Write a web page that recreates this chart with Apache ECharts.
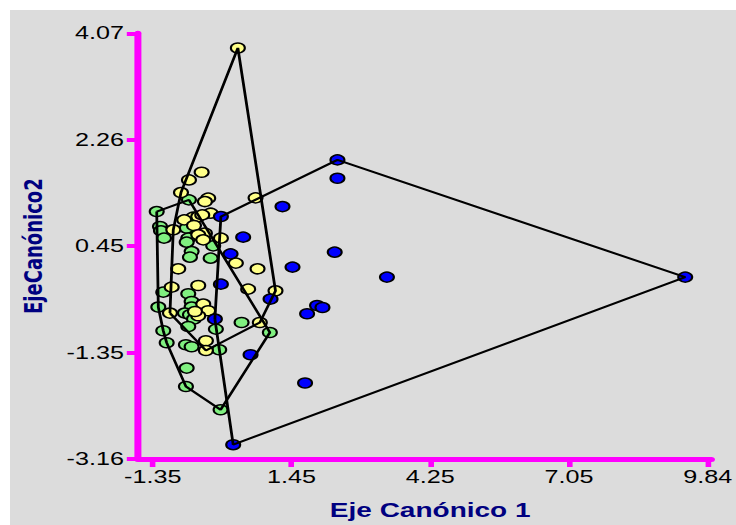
<!DOCTYPE html>
<html>
<head>
<meta charset="utf-8">
<script src="https://cdn.jsdelivr.net/npm/echarts@6/dist/echarts.min.js"></script>
<style>
  html, body { margin: 0; padding: 0; background: #ffffff; overflow: hidden; }
  #wrap { position: relative; width: 736px; height: 525px; overflow: hidden; background: #ffffff; }
  #bg { position: absolute; left: 10px; top: 10px; right: 0; bottom: 0; background: #dcdcdc; }
  #chart { position: absolute; left: 0; top: 0; height: 525px; transform-origin: 0 0; }
</style>
</head>
<body>
<div id="wrap"><div id="bg"></div><div id="chart"></div></div>
<script>
// ---- data ----
const xTickLabels = ['-1.35', '1.45', '4.25', '7.05', '9.84'];
const yTickLabels = ['-3.16', '-1.35', '0.45', '2.26', '4.07'];
const xTitle = 'Eje Canónico 1';
const yTitle = 'EjeCanónico2';

const yellowX = [0.367, -0.363, -0.619, -0.780, -0.231, -0.297, 0.724, -0.182, -0.533, -0.432, -0.351, -0.714, -0.518, -0.935, -0.297, -0.432, -0.331, 0.025, 0.327, -0.835, 0.764, -0.967, -0.432, 0.575, 1.126, -0.331, -0.231, -0.432, -0.498, -1.002, 0.810, -0.277, -0.277];
const yellowY = [3.821, 1.711, 1.580, 1.365, 1.270, 1.212, 1.275, 1.015, 0.947, 0.957, 0.986, 0.901, 0.805, 0.732, 0.676, 0.647, 0.562, 0.591, 0.167, 0.070, 0.070, -0.241, -0.214, -0.275, -0.304, -0.529, -0.643, -0.728, -0.655, -0.682, -0.842, -1.152, -1.317];

const greenX = [-1.269, -0.619, -1.203, -1.183, -1.122, -0.665, -0.633, -0.665, -0.130, -0.565, -0.599, -0.182, -1.137, -0.633, -0.565, -1.237, -0.565, -0.700, -0.599, -0.518, -0.633, 0.442, -0.076, 1.012, -1.137, -1.068, -0.680, -0.565, -0.009, -0.665, -0.680, 0.019];
const greenY = [1.042, 1.241, 0.788, 0.715, 0.591, 0.761, 0.591, 0.523, 0.460, 0.363, 0.268, 0.251, -0.326, -0.354, -0.485, -0.580, -0.580, -0.682, -0.711, -0.784, -0.909, -0.842, -0.954, -1.011, -0.982, -1.186, -1.220, -1.254, -1.305, -1.616, -1.928, -2.323];

const blueX = [0.025, 1.267, 2.375, 2.375, 0.474, 0.220, 2.320, 1.469, 3.373, 0.025, 1.026, 1.964, 2.073, 1.763, -0.096, 0.623, 1.722, 0.273, 9.387];
const blueY = [0.957, 1.127, 1.920, 1.609, 0.608, 0.324, 0.353, 0.099, -0.071, -0.190, -0.444, -0.553, -0.587, -0.694, -0.784, -1.390, -1.870, -2.917, -0.071];

// ---- helpers ----
function pairs(xs, ys) { return xs.map((x, i) => [x, ys[i]]); }
function hull(pts) {
  const p = pts.slice().sort((a, b) => a[0] - b[0] || a[1] - b[1]);
  const cross = (o, a, b) => (a[0] - o[0]) * (b[1] - o[1]) - (a[1] - o[1]) * (b[0] - o[0]);
  const lower = [], upper = [];
  for (const q of p) { while (lower.length >= 2 && cross(lower[lower.length - 2], lower[lower.length - 1], q) <= 0) lower.pop(); lower.push(q); }
  for (let i = p.length - 1; i >= 0; i--) { const q = p[i]; while (upper.length >= 2 && cross(upper[upper.length - 2], upper[upper.length - 1], q) <= 0) upper.pop(); upper.push(q); }
  upper.pop(); lower.pop();
  const h = lower.concat(upper);
  h.push(h[0]);
  return h;
}

const yellowPts = pairs(yellowX, yellowY);
const greenPts = pairs(greenX, greenY);
const bluePts = pairs(blueX, blueY);

// horizontal stretch of the original picture
const SX = 1.4;
const CW = 736 / SX;
const dom = document.getElementById('chart');
dom.style.width = CW + 'px';
dom.style.transform = 'scaleX(' + SX + ')';

const MAG = '#ff00ff';
const NAVY = '#000080';
const gridLeft = 152.7 / SX, gridRight = (736 - 708.5) / SX;
const lineLeft = 138 / SX, lineRight = (736 - 711) / SX;
const gTop = 33.3, gBottom = 525 - 459.3;

const chart = echarts.init(dom, null, { renderer: 'svg' });

function scatterSeries(name, data, color) {
  return {
    name, type: 'scatter', xAxisIndex: 0, yAxisIndex: 0, data,
    symbol: 'circle', symbolSize: 10, z: 3,
    itemStyle: { color, borderColor: '#000000', borderWidth: 1.5, opacity: 1 },
    emphasis: { disabled: true }
  };
}
function hullSeries(name, data) {
  return {
    name, type: 'line', xAxisIndex: 0, yAxisIndex: 0, data: hull(data),
    symbol: 'none', z: 5, silent: true,
    lineStyle: { color: '#000000', width: 2 }
  };
}

const labelFont = { fontFamily: 'Liberation Sans, Arial, sans-serif', fontSize: 18, color: '#000000' };

chart.setOption({
  animation: false,
  backgroundColor: 'transparent',
  grid: [
    { left: gridLeft, right: gridRight, top: gTop, bottom: gBottom },
    { left: lineLeft, right: lineRight, top: gTop, bottom: gBottom }
  ],
  xAxis: [
    {
      type: 'value', gridIndex: 0, position: 'bottom',
      min: parseFloat(xTickLabels[0]), max: parseFloat(xTickLabels[xTickLabels.length - 1]),
      axisLine: { show: false, onZero: false }, axisTick: { show: false }, axisLabel: { show: false }, splitLine: { show: false },
      name: xTitle, nameLocation: 'middle', nameGap: 41,
      nameTextStyle: { fontFamily: 'Liberation Sans, Arial, sans-serif', fontWeight: 'bold', fontSize: 20, color: NAVY }
    },
    {
      type: 'category', gridIndex: 0, position: 'bottom', data: xTickLabels, boundaryGap: false,
      axisLine: { show: false, onZero: false },
      axisTick: { show: true, interval: 0, length: 8, lineStyle: { color: MAG, width: 4 } },
      axisLabel: Object.assign({ interval: 0, margin: 9 }, labelFont),
      splitLine: { show: false }
    },
    {
      type: 'value', gridIndex: 1, position: 'bottom', min: 0, max: 1,
      axisLine: { show: true, onZero: false, lineStyle: { color: MAG, width: 5 } },
      axisTick: { show: false }, axisLabel: { show: false }, splitLine: { show: false }
    }
  ],
  yAxis: [
    {
      type: 'value', gridIndex: 0, position: 'left', offset: gridLeft - lineLeft,
      min: parseFloat(yTickLabels[0]), max: parseFloat(yTickLabels[yTickLabels.length - 1]),
      axisLine: { show: true, onZero: false, lineStyle: { color: MAG, width: 5 } },
      axisTick: { show: false }, axisLabel: { show: false }, splitLine: { show: false },
      name: yTitle, nameLocation: 'middle', nameGap: 66, nameRotate: 90,
      nameTextStyle: { fontFamily: 'DejaVu Sans, sans-serif', fontWeight: 'bold', fontSize: 18, color: NAVY }
    },
    {
      type: 'category', gridIndex: 0, position: 'left', offset: gridLeft - lineLeft, data: yTickLabels, boundaryGap: false,
      axisLine: { show: false, onZero: false },
      axisTick: { show: true, interval: 0, length: 8, lineStyle: { color: MAG, width: 4 } },
      axisLabel: Object.assign({ interval: 0, margin: 10 }, labelFont),
      splitLine: { show: false }
    },
    {
      type: 'value', gridIndex: 1, show: false, min: 0, max: 1
    }
  ],
  series: [
    scatterSeries('Grupo verde', greenPts, '#80f080'),
    scatterSeries('Grupo amarillo', yellowPts, '#ffff88'),
    scatterSeries('Grupo azul', bluePts, '#0000ff'),
    hullSeries('Envolvente verde', greenPts),
    hullSeries('Envolvente amarilla', yellowPts),
    hullSeries('Envolvente azul', bluePts)
  ]
});
</script>
</body>
</html>
